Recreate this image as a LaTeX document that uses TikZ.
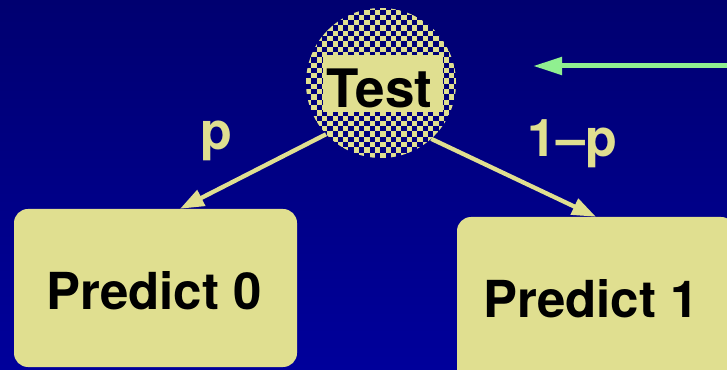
\documentclass[tikz,border=0pt]{standalone}
\usepackage{fontspec}
\setmainfont{TeX Gyre Heros}
\usetikzlibrary{arrows.meta}
\definecolor{bgtop}{RGB}{0,0,112}
\definecolor{bgbot}{RGB}{0,0,155}
\definecolor{pale}{RGB}{224,223,144}
\definecolor{mint}{RGB}{144,240,144}
\begin{document}
\begin{tikzpicture}[x=1pt,y=1pt,
  leafbox/.style={draw=none,fill=pale,rounded corners=14pt,inner sep=0pt},
  bigtext/.style={font=\fontsize{51}{52}\selectfont\bfseries,inner sep=0pt},
  edgelabel/.style={font=\fontsize{52}{53}\selectfont\bfseries,text=pale,inner sep=0pt,anchor=base},
  branch/.style={draw=pale,line width=4.3pt,-{Triangle[length=24pt,width=17pt]}},
  pointer/.style={draw=mint,line width=5pt,-{Triangle[length=29pt,width=17pt]}}]
\useasboundingbox (0,0) rectangle (727,369);
% background
\shade[top color=bgtop,bottom color=bgbot] (0,0) rectangle (727,369);

% test node: checkered disc with a label plate
\node[circle,minimum size=150pt,inner sep=0pt] (test) at (381,286) {};
\begin{scope}
  \clip (381,286) circle (75pt);
  \foreach \i in {0,...,29}{
    \foreach \j in {0,...,29}{
      \ifodd\numexpr\i+\j\relax\else
        \fill[pale] (306+\i*5.3,211+\j*5.3) rectangle ++(5.3,5.3);
      \fi
    }
  }
\end{scope}
\node[fill=pale,minimum width=120pt,minimum height=57pt,inner sep=0pt] (plate) at (383,285.5) {};
\node[bigtext,anchor=base,font=\fontsize{53}{54}\selectfont\bfseries] (testtxt) at (379.5,261) {Test};

% leaves
\node[leafbox,minimum width=283pt,minimum height=158pt] (p0) at (155.5,81) {};
\node[bigtext,anchor=base] (p0txt) at (154,59) {Predict 0};
\node[leafbox,minimum width=278pt,minimum height=192pt] (p1) at (596,56) {};
\node[bigtext,anchor=base] (p1txt) at (591,52) {Predict 1};

% branches
\draw[branch] (test.223) -- ([xshift=24.5pt]p0.north);
\draw[branch] (test.-48) -- (p1.north);
\node[edgelabel] (lp) at (216,219) {p};
\node[edgelabel] (lq) at (572,212) {1–p};

% pointer arrow
\coordinate (ptail) at (727,303);
\coordinate (phead) at (533,303);
\draw[pointer] (ptail) -- (phead);
\end{tikzpicture}
\end{document}
